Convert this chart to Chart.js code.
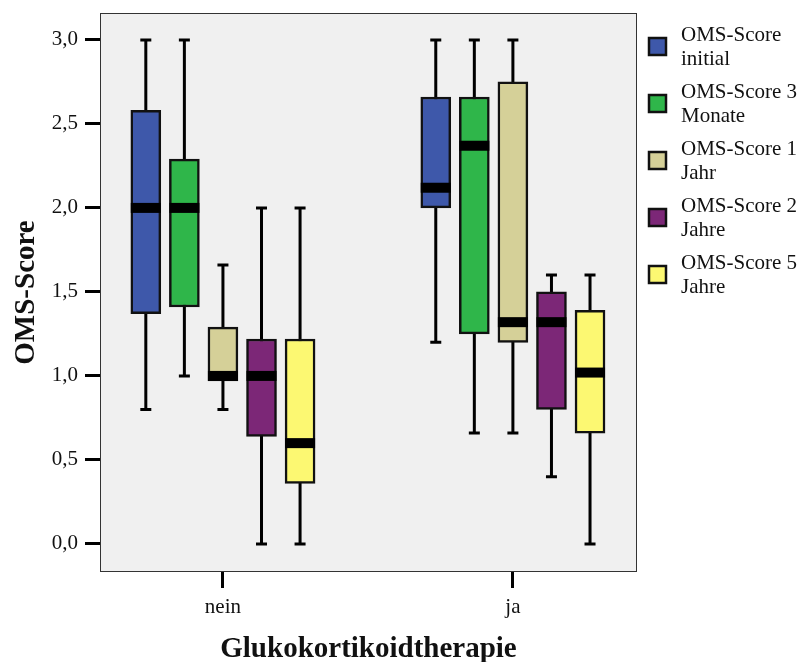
<!DOCTYPE html>
<html>
<head>
<meta charset="utf-8">
<script src="https://cdn.jsdelivr.net/npm/chart.js@4.4.1/dist/chart.umd.min.js"></script>
<style>
  body { margin: 0; background: #fff; }
  #wrap { width: 800px; height: 662px; }
</style>
</head>
<body>
<div id="wrap"><canvas id="boxChart" width="800" height="662"></canvas></div>
<script>
// ---------- DATA ----------
const groups = ["nein", "ja"];
const seriesNames = ["OMS-Score initial", "OMS-Score 3 Monate", "OMS-Score 1 Jahr", "OMS-Score 2 Jahre", "OMS-Score 5 Jahre"];
const seriesColors = ["#3e58aa", "#2fb64a", "#d5d098", "#7c2777", "#fcf872"];

// one row per series, [nein, ja]
const whiskerLow  = [[0.80, 1.20], [1.00, 0.66], [0.80, 0.66], [0.00, 0.40], [0.00, 0.00]];
const quart1      = [[1.37, 2.00], [1.41, 1.25], [0.97, 1.20], [0.64, 0.80], [0.36, 0.66]];
const medians     = [[2.00, 2.12], [2.00, 2.37], [1.00, 1.32], [1.00, 1.32], [0.60, 1.02]];
const quart3      = [[2.58, 2.66], [2.29, 2.66], [1.29, 2.75], [1.22, 1.50], [1.22, 1.39]];
const whiskerHigh = [[3.00, 3.00], [3.00, 3.00], [1.66, 3.00], [2.00, 1.60], [2.00, 1.60]];

const yTickValues = [0, 0.5, 1, 1.5, 2, 2.5, 3];

const serif = "'Liberation Serif', 'Times New Roman', serif";
const slotStep = 0.133; // distance between boxes inside a group (x units)

// ---------- DATASETS (box = floating bar q1..q3) ----------
const datasets = seriesNames.map((name, i) => ({
    label: name,
    data: groups.map((g, k) => ({ x: k + (i - 2) * slotStep, y: [quart1[i][k], quart3[i][k]] })),
    backgroundColor: seriesColors[i],
    borderColor: "#111",
    borderWidth: 2.5,
    borderSkipped: false,
    barPercentage: 1,
    categoryPercentage: 1,
    maxBarThickness: 30,
    grouped: false
}));

// whiskers, medians, frame and legend
const boxExtras = {
    id: "boxExtras",
    beforeDraw(chart) {
        const a = chart.chartArea;
        const ctx = chart.ctx;
        ctx.save();
        ctx.fillStyle = "#f0f0f0";
        ctx.fillRect(a.left, a.top, a.right - a.left, a.bottom - a.top);
        ctx.restore();
    },
    beforeDatasetsDraw(chart) {
        const ctx = chart.ctx;
        const y = chart.scales.y;
        ctx.save();
        ctx.strokeStyle = "#000";
        ctx.lineWidth = 3;
        chart.data.datasets.forEach((ds, i) => {
            chart.getDatasetMeta(i).data.forEach((bar, k) => {
                const lo = y.getPixelForValue(whiskerLow[i][k]);
                const hi = y.getPixelForValue(whiskerHigh[i][k]);
                ctx.beginPath();
                ctx.moveTo(bar.x, lo);
                ctx.lineTo(bar.x, hi);
                ctx.moveTo(bar.x - 5.5, lo);
                ctx.lineTo(bar.x + 5.5, lo);
                ctx.moveTo(bar.x - 5.5, hi);
                ctx.lineTo(bar.x + 5.5, hi);
                ctx.stroke();
            });
        });
        ctx.restore();
    },
    afterDatasetsDraw(chart) {
        const ctx = chart.ctx;
        const y = chart.scales.y;
        const a = chart.chartArea;
        ctx.save();
        ctx.fillStyle = "#000";
        chart.data.datasets.forEach((ds, i) => {
            chart.getDatasetMeta(i).data.forEach((bar, k) => {
                const m = y.getPixelForValue(medians[i][k]);
                ctx.fillRect(bar.x - bar.width / 2, m - 5, bar.width, 10);
            });
        });
        ctx.strokeStyle = "#333";
        ctx.lineWidth = 1;
        ctx.strokeRect(a.left + 0.5, a.top + 0.5, a.right - a.left - 1, a.bottom - a.top - 1);
        ctx.restore();
    },
    afterDraw(chart) {
        const ctx = chart.ctx;
        ctx.save();
        ctx.font = "21px " + serif;
        ctx.textBaseline = "alphabetic";
        seriesNames.forEach((name, i) => {
            const top = 38 + i * 57;
            ctx.fillStyle = seriesColors[i];
            ctx.fillRect(649, top, 17, 17);
            ctx.strokeStyle = "#111";
            ctx.lineWidth = 2.5;
            ctx.strokeRect(649, top, 17, 17);
            const cut = name.lastIndexOf(" ");
            ctx.fillStyle = "#111";
            ctx.fillText(name.slice(0, cut), 681, 41 + i * 57);
            ctx.fillText(name.slice(cut + 1), 681, 65 + i * 57);
        });
        ctx.restore();
    }
};

const ctx = document.getElementById("boxChart").getContext("2d");

new Chart(ctx, {
    type: "bar",
    data: { datasets: datasets },
    plugins: [boxExtras],
    options: {
        responsive: false,
        animation: false,
        layout: { padding: { top: 13, right: 163, left: 0, bottom: 0 } },
        plugins: {
            legend: { display: false },
            tooltip: { enabled: false }
        },
        scales: {
            x: {
                type: "linear",
                offset: false,
                min: -0.424,
                max: 1.428,
                afterBuildTicks: scale => { scale.ticks = groups.map((g, k) => ({ value: k })); },
                afterFit: scale => {
                    scale.height = 90;
                    scale.paddingLeft = 0;
                    scale.paddingRight = 0;
                },
                ticks: {
                    callback: v => groups[v],
                    color: "#111",
                    font: { family: serif, size: 21 },
                    padding: 7,
                    maxRotation: 0
                },
                grid: { offset: false, drawOnChartArea: false, tickLength: 16, lineWidth: 3, color: "#000" },
                border: { display: false },
                title: {
                    display: true,
                    text: "Glukokortikoidtherapie",
                    color: "#111",
                    font: { family: serif, size: 29, weight: "bold", lineHeight: 1 },
                    padding: { top: 0, bottom: -2 }
                }
            },
            y: {
                min: -0.167,
                max: 3.16,
                afterBuildTicks: scale => { scale.ticks = yTickValues.map(v => ({ value: v })); },
                afterFit: scale => {
                    scale.width = 100;
                    scale.paddingTop = 0;
                    scale.paddingBottom = 0;
                },
                ticks: {
                    callback: v => v.toFixed(1).replace(".", ","),
                    color: "#111",
                    font: { family: serif, size: 21 },
                    padding: 7
                },
                grid: { drawOnChartArea: false, tickLength: 15, lineWidth: 3, color: "#000" },
                border: { display: false },
                title: {
                    display: true,
                    text: "OMS-Score",
                    color: "#111",
                    font: { family: serif, size: 29, weight: "bold", lineHeight: 1 },
                    padding: { top: 12, bottom: 0 }
                }
            }
        }
    }
});
</script>
</body>
</html>
